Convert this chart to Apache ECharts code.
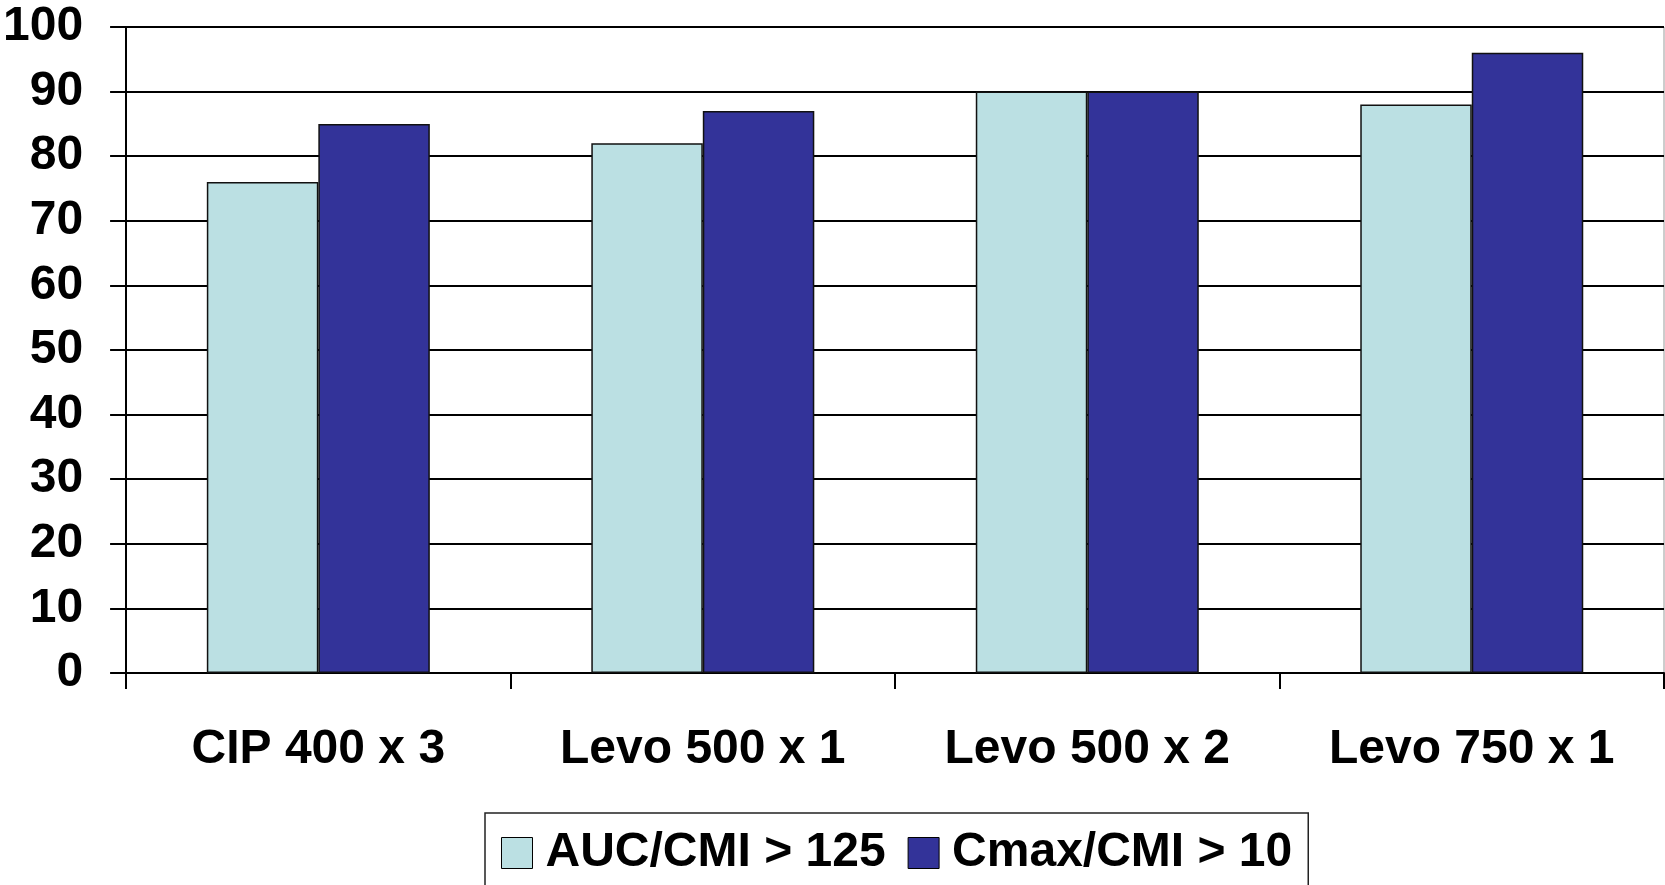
<!DOCTYPE html>
<html>
<head>
<meta charset="utf-8">
<title>AUC/CMI and Cmax/CMI target attainment</title>
<script src="https://cdn.jsdelivr.net/npm/echarts@6/dist/echarts.min.js"></script>
<style>
  html, body { margin: 0; padding: 0; background: #fff; }
  #chart { width: 1665px; height: 885px; }
</style>
</head>
<body>
<div id="chart"></div>
<script>
// Dosing regimens on the category axis
const regimens = ['CIP 400 x 3', 'Levo 500 x 1', 'Levo 500 x 2', 'Levo 750 x 1'];

// Percentage of targets attained per regimen
const aucCmi = [76, 82, 90, 88];
const cmaxCmi = [85, 87, 90, 96];

const seriesNames = ['AUC/CMI > 125', 'Cmax/CMI > 10'];

// Value axis range
const yMin = 0;
const yMax = 100;
const yStep = 10;

const FONT = '"Liberation Sans", Arial, Helvetica, sans-serif';
const lightFill = '#BBE0E3';
const darkFill = '#333399';

const chart = echarts.init(document.getElementById('chart'), null, { renderer: 'canvas' });

chart.setOption({
  animation: false,
  backgroundColor: '#ffffff',
  textStyle: { fontFamily: FONT },
  grid: {
    left: 126,
    right: 1,
    top: 27,
    bottom: 212,
    show: true,
    borderColor: '#9a9a9a',
    borderWidth: 1,
    backgroundColor: 'transparent'
  },
  legend: {
    data: seriesNames,
    left: 485,
    top: 813,
    orient: 'horizontal',
    padding: [16, 16, 16, 16],
    itemGap: 22,
    itemWidth: 31,
    itemHeight: 31,
    icon: 'rect',
    borderColor: '#222',
    borderWidth: 1.5,
    itemStyle: { borderColor: '#000', borderWidth: 1 },
    textStyle: {
      fontFamily: FONT,
      fontSize: 48,
      fontWeight: 'bold',
      color: '#000',
      lineHeight: 48,
      padding: [0, 0, 0, 8]
    }
  },
  xAxis: {
    type: 'category',
    data: regimens,
    boundaryGap: true,
    axisLine: { show: true, lineStyle: { color: '#000', width: 2 } },
    axisTick: { show: true, length: 16, lineStyle: { color: '#000', width: 2 } },
    axisLabel: {
      margin: 53,
      fontFamily: FONT,
      fontSize: 48,
      fontWeight: 'bold',
      color: '#000',
      lineHeight: 48
    },
    splitLine: { show: false }
  },
  yAxis: {
    type: 'value',
    min: yMin,
    max: yMax,
    interval: yStep,
    axisLine: { show: true, lineStyle: { color: '#000', width: 2 } },
    axisTick: { show: true, length: 16, lineStyle: { color: '#000', width: 2 } },
    axisLabel: {
      margin: 43,
      fontFamily: FONT,
      fontSize: 48,
      fontWeight: 'bold',
      color: '#000'
    },
    splitLine: { show: true, lineStyle: { color: '#000', width: 2 } }
  },
  series: [
    {
      name: seriesNames[0],
      type: 'bar',
      data: aucCmi,
      barGap: '0%',
      barCategoryGap: '42%',
      itemStyle: { color: lightFill, borderColor: '#111', borderWidth: 1.5 }
    },
    {
      name: seriesNames[1],
      type: 'bar',
      data: cmaxCmi,
      barGap: '0%',
      barCategoryGap: '42%',
      itemStyle: { color: darkFill, borderColor: '#111', borderWidth: 1.5 }
    }
  ]
});
</script>
</body>
</html>
